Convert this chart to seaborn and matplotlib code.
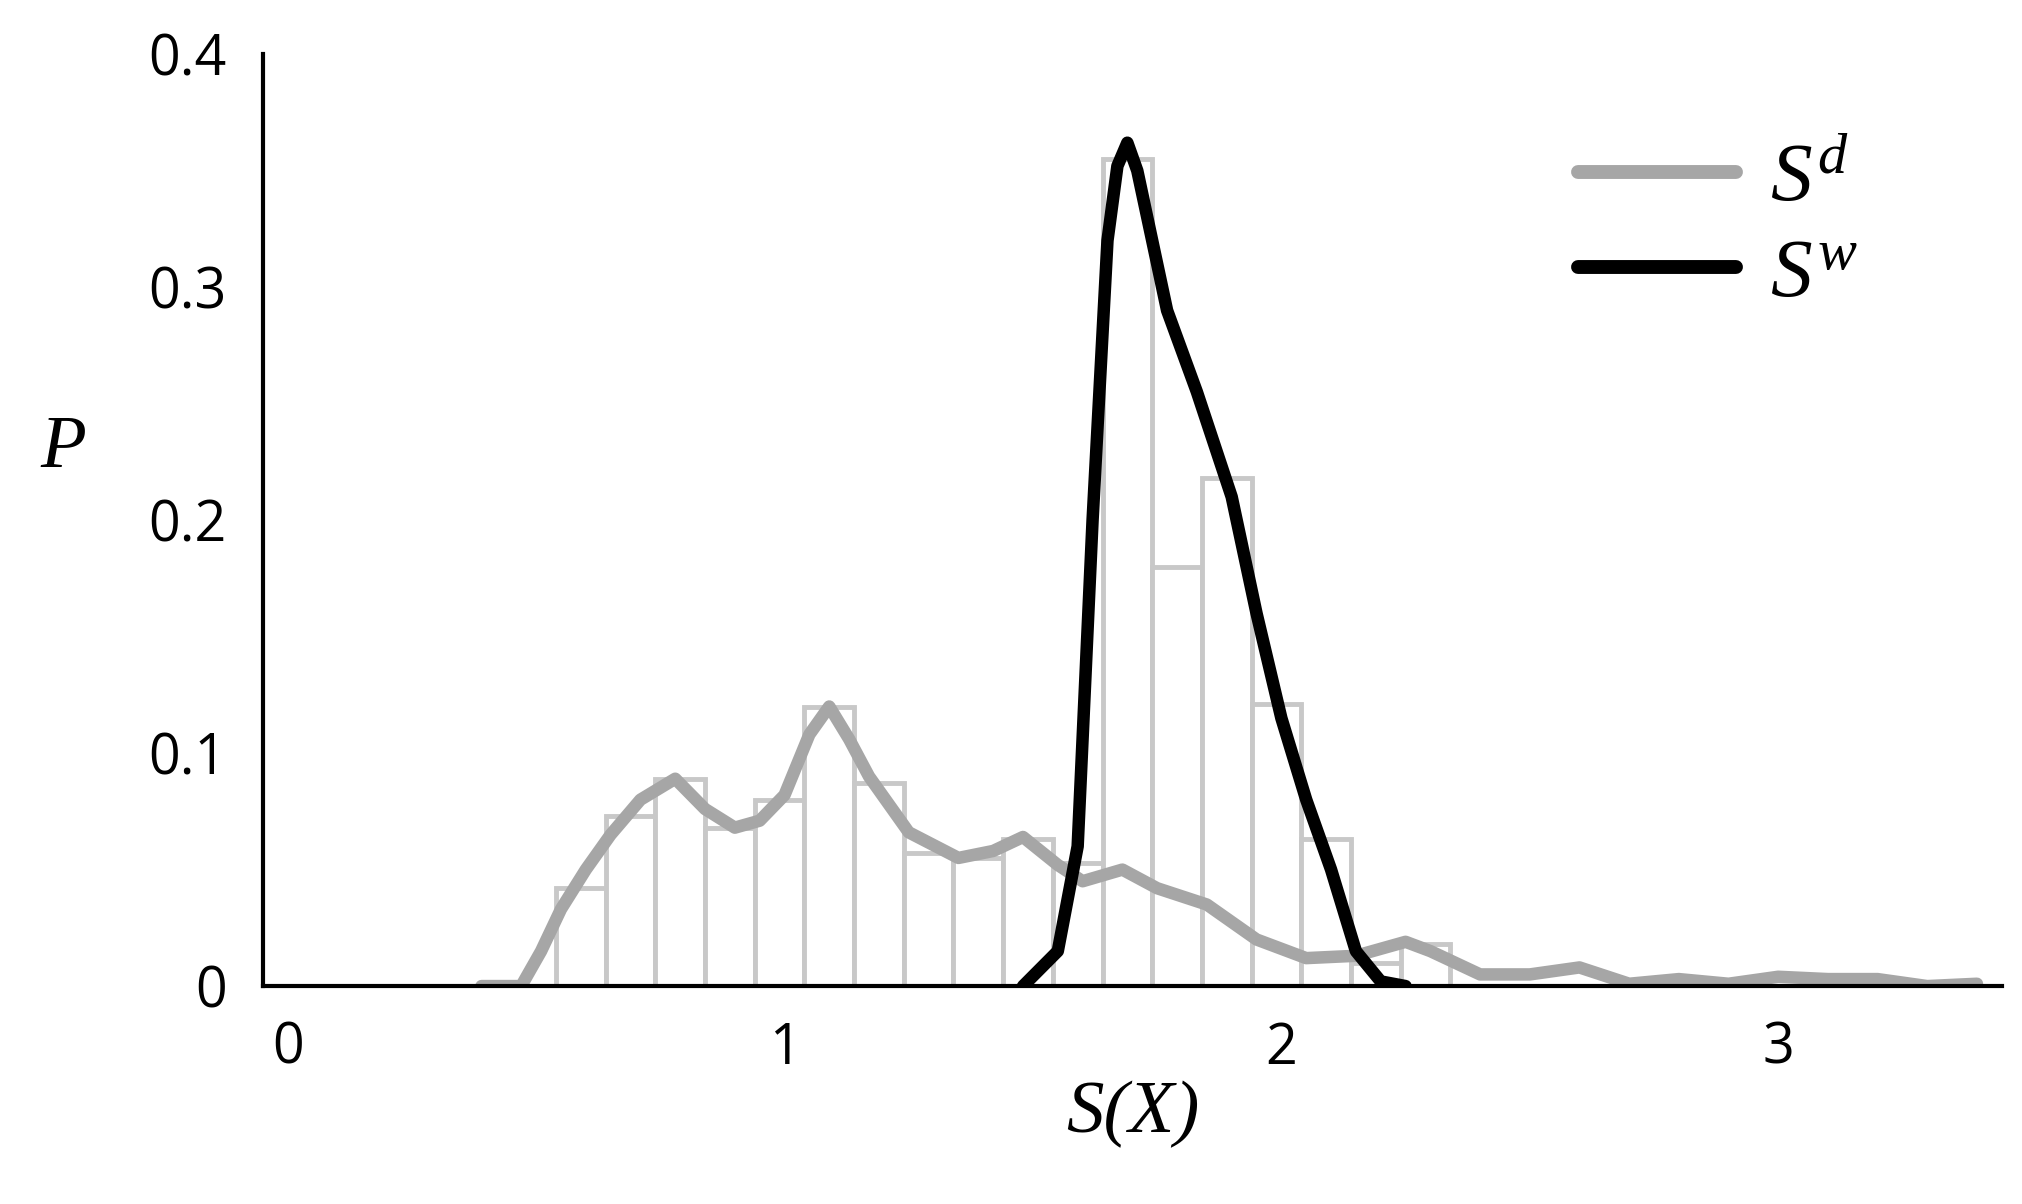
import matplotlib
matplotlib.use("Agg")
import matplotlib.pyplot as plt
import matplotlib.transforms as mtrans
import seaborn as sns
import numpy as np
import pandas as pd

sns.set_theme(style="white")
plt.rcParams['font.family'] = ['Open Sans', 'DejaVu Sans']
plt.rcParams['mathtext.fontset'] = 'custom'
plt.rcParams['mathtext.it'] = 'Liberation Serif:italic'
plt.rcParams['mathtext.rm'] = 'Liberation Serif'

bin_left = [0.59, 0.69, 0.79, 0.89, 0.99, 1.09, 1.19, 1.29, 1.39, 1.49, 1.59,
            1.69, 1.79, 1.89, 1.99, 2.09, 2.19, 2.29]
bin_height = [0.042, 0.073, 0.089, 0.068, 0.080, 0.120, 0.087, 0.057, 0.055, 0.063, 0.053,
              0.355, 0.180, 0.218, 0.121, 0.063, 0.010, 0.018]

sd_x = [0.44, 0.52, 0.56, 0.60, 0.65, 0.70, 0.76, 0.83, 0.89, 0.95, 1.00, 1.05, 1.10, 1.14,
        1.18, 1.22, 1.30, 1.40, 1.47, 1.53, 1.60, 1.65, 1.73, 1.80, 1.90, 2.00, 2.10, 2.20,
        2.30, 2.35, 2.45, 2.55, 2.65, 2.75, 2.85, 2.95, 3.05, 3.15, 3.25, 3.35, 3.45]
sd_p = [0.0, 0.0, 0.015, 0.033, 0.050, 0.065, 0.080, 0.089, 0.076, 0.068, 0.071, 0.082,
        0.108, 0.120, 0.106, 0.090, 0.066, 0.055, 0.058, 0.064, 0.052, 0.045, 0.050, 0.042,
        0.035, 0.020, 0.012, 0.013, 0.019, 0.015, 0.005, 0.005, 0.008, 0.001, 0.003, 0.001,
        0.004, 0.003, 0.003, 0.0, 0.001]

sw_x = [1.53, 1.60, 1.64, 1.67, 1.70, 1.72, 1.74, 1.76, 1.78, 1.82, 1.88, 1.95, 2.00, 2.05,
        2.10, 2.15, 2.20, 2.25, 2.30]
sw_p = [0.0, 0.015, 0.06, 0.20, 0.32, 0.352, 0.362, 0.350, 0.33, 0.29, 0.255, 0.21, 0.16,
        0.115, 0.08, 0.05, 0.015, 0.002, 0.0]

fig = plt.figure(figsize=(20.22, 12.04), dpi=100)
ax = fig.add_axes([0.13, 0.181, 0.86, 0.774])

ax.bar(bin_left, bin_height, width=0.1, align='edge', facecolor='white',
       edgecolor='#c8c8c8', linewidth=3.5, zorder=1)
sns.lineplot(x=sd_x, y=sd_p, ax=ax, color='#a6a6a6', linewidth=9, label='$S^d$', zorder=2,
             solid_joinstyle='round', solid_capstyle='round')
sns.lineplot(x=sw_x, y=sw_p, ax=ax, color='black', linewidth=9, label='$S^w$', zorder=3,
             solid_joinstyle='round', solid_capstyle='round')

ax.set_xlim(0, 3.5)
ax.set_ylim(0, 0.4)
ax.set_xticks([0, 1, 2, 3])
ax.set_yticks([0, 0.1, 0.2, 0.3, 0.4])
ax.set_yticklabels(['0', '0.1', '0.2', '0.3', '0.4'])
for s in ['top', 'right']:
    ax.spines[s].set_visible(False)
for s in ['left', 'bottom']:
    ax.spines[s].set_color('black')
    ax.spines[s].set_linewidth(3)
ax.tick_params(axis='y', direction='out', length=14, width=3, labelsize=40, pad=12,
               labelcolor='black', colors='black')
ax.tick_params(axis='x', direction='inout', length=22, width=3, labelsize=40, pad=14,
               labelcolor='black', colors='black')
off = mtrans.ScaledTranslation(0.25, 0, fig.dpi_scale_trans)
for lab in ax.get_xticklabels():
    lab.set_transform(lab.get_transform() + off)
ax.set_xlabel('S(X)', family='Liberation Serif', style='italic', fontsize=54, labelpad=2,
              color='black')
ax.set_ylabel('P', family='Liberation Serif', style='italic', fontsize=54, rotation=0,
              color='black')
ax.yaxis.set_label_coords(-0.115, 0.54)

leg = ax.legend(loc='upper right', bbox_to_anchor=(0.96, 0.99), frameon=False,
                fontsize=60, handlelength=1.9, labelspacing=0.15, handletextpad=0.4)
for line in leg.get_lines():
    line.set_linewidth(10)
for t in leg.get_texts():
    t.set_color('black')
fig.savefig('out.png', dpi=100)
